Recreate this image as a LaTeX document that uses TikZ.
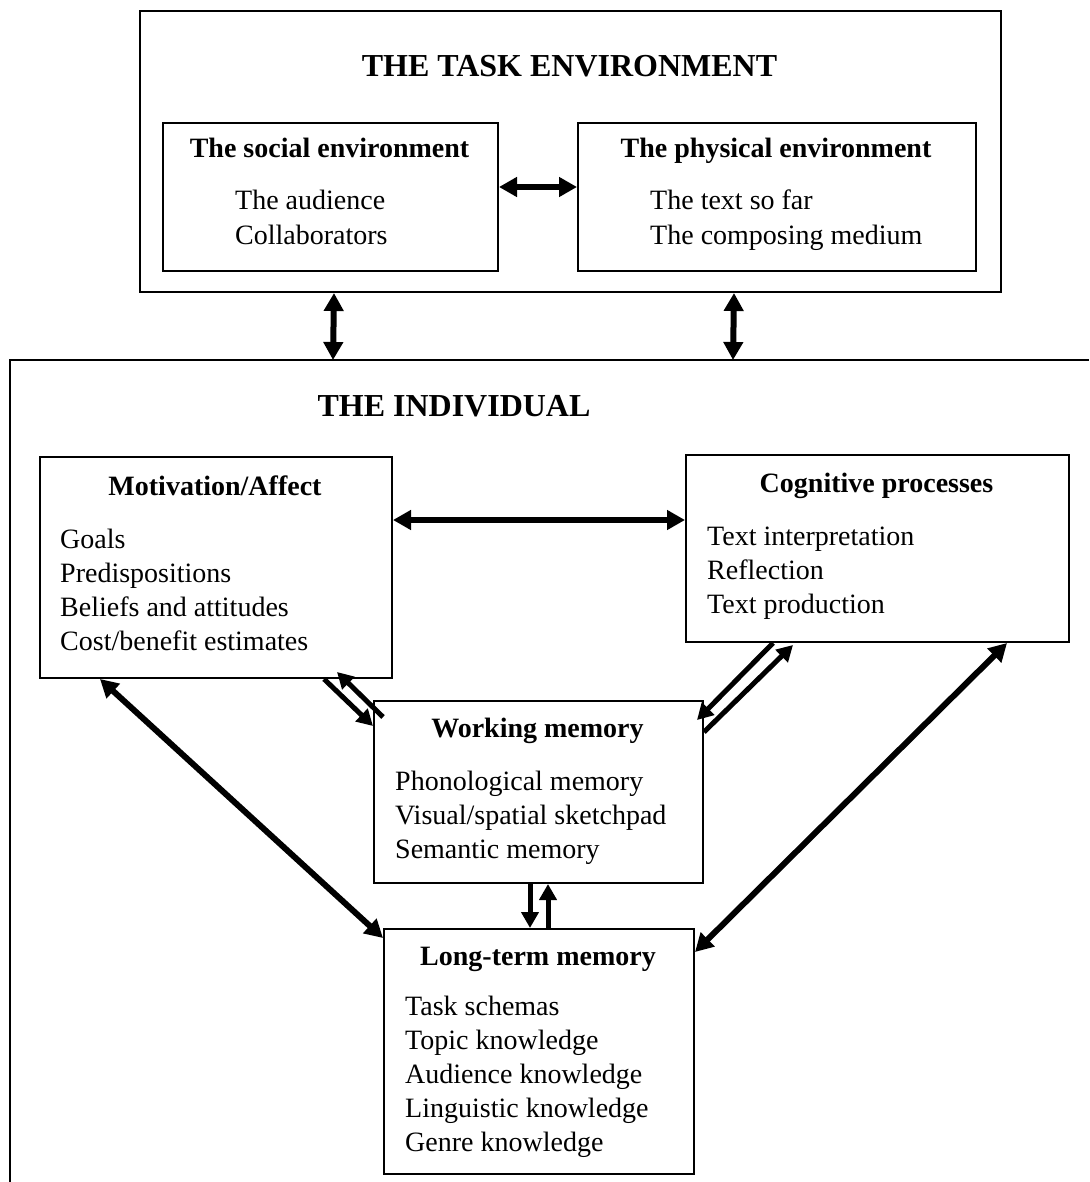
\documentclass[tikz,border=0pt]{standalone}
\usepackage{fontspec}
\setmainfont{Liberation Serif}
\usetikzlibrary{arrows.meta,calc}
\tikzset{
  frame/.style={draw, line width=2pt, inner sep=0pt, anchor=north west},
  maintitle/.style={font=\fontsize{32}{38}\selectfont\bfseries, anchor=base, inner sep=0pt},
  boxtitle/.style={font=\fontsize{28}{34}\selectfont\bfseries, anchor=base, inner sep=0pt},
  item/.style={font=\fontsize{28}{34}\selectfont, anchor=base west, inner sep=0pt},
  link/.style={line width=6pt, {Triangle[length=18pt,width=19pt]}-{Triangle[length=18pt,width=19pt]}},
  oneway/.style={line width=5pt, -{Triangle[length=16pt,width=17pt]}},
}
\begin{document}
\begin{tikzpicture}[x=1pt,y=-1pt]
\useasboundingbox (0,0) rectangle (1089,1182);

% ---- task environment ----
\node[frame, minimum width=861pt, minimum height=281pt] (task) at (139,10) {};
\node[maintitle] (tasktitle) at (569.5,77) {THE TASK ENVIRONMENT};

\node[frame, minimum width=335pt, minimum height=148pt] (soc) at (162,122) {};
\node[boxtitle] (soctitle) at (329.5,158) {The social environment};
\node[item] (soc1) at (235,210) {The audience};
\node[item] (soc2) at (235,244) {Collaborators};

\node[frame, minimum width=398pt, minimum height=148pt] (phys) at (577,122) {};
\node[boxtitle] (phystitle) at (776,158) {The physical environment};
\node[item] (phys1) at (650,210) {The text so far};
\node[item] (phys2) at (650,244) {The composing medium};

\draw[link] ($(soc.east)+(0,-10)$) -- ($(phys.west)+(0,-10)$);

% ---- the individual (open frame) ----
\coordinate (indNW) at (10,360);
\draw[line width=2pt] (10,1182) -- (indNW) -- (1089,360);
\node[maintitle] (indtitle) at (454,416) {THE INDIVIDUAL};

\draw[link] ($(task.south)+(-236.5,0)$) -- ($(indNW)+(323,0)$);
\draw[link] ($(task.south)+(163.5,0)$) -- ($(indNW)+(723,0)$);

% motivation / affect
\node[frame, minimum width=352pt, minimum height=221pt] (mot) at (39,456) {};
\node[boxtitle] (mottitle) at (215,495) {Motivation/Affect};
\node[item] (mot1) at (60,548) {Goals};
\node[item] (mot2) at (60,582) {Predispositions};
\node[item] (mot3) at (60,616) {Beliefs and attitudes};
\node[item] (mot4) at (60,650) {Cost/benefit estimates};

% cognitive processes
\node[frame, minimum width=383pt, minimum height=187pt] (cog) at (685,454) {};
\node[boxtitle] (cogtitle) at (876.5,492) {Cognitive processes};
\node[item] (cog1) at (707,545) {Text interpretation};
\node[item] (cog2) at (707,579) {Reflection};
\node[item] (cog3) at (707,613) {Text production};

% working memory
\node[frame, minimum width=329pt, minimum height=182pt] (wm) at (373,700) {};
\node[boxtitle] (wmtitle) at (537.5,737) {Working memory};
\node[item] (wm1) at (395,790) {Phonological memory};
\node[item] (wm2) at (395,824) {Visual/spatial sketchpad};
\node[item] (wm3) at (395,858) {Semantic memory};

% long-term memory
\node[frame, minimum width=310pt, minimum height=245pt] (ltm) at (383,928) {};
\node[boxtitle] (ltmtitle) at (538,965) {Long-term memory};
\node[item] (ltm1) at (405,1015) {Task schemas};
\node[item] (ltm2) at (405,1049) {Topic knowledge};
\node[item] (ltm3) at (405,1083) {Audience knowledge};
\node[item] (ltm4) at (405,1117) {Linguistic knowledge};
\node[item] (ltm5) at (405,1151) {Genre knowledge};

% ---- connectors inside the individual ----
\draw[link] ($(mot.north east)+(0,64)$) -- ($(cog.north west)+(0,66)$);
\draw[link] ($(mot.south west)+(61,0)$) -- ($(ltm.north west)+(0,10)$);
\draw[link] ($(cog.south east)+(-63,0)$) -- ($(ltm.north east)+(0,24)$);

\draw[oneway] ($(mot.south east)+(-69,0)$) -- ($(wm.north west)+(0,26)$);
\draw[oneway] ($(wm.north west)+(10,17)$) -- ($(mot.south east)+(-56,-7)$);

\draw[oneway] ($(cog.south west)+(88,0)$) -- ($(wm.north east)+(-7,20)$);
\draw[oneway] ($(wm.north east)+(0,32)$) -- ($(cog.south west)+(108,2)$);

\draw[oneway] ($(wm.south)+(-8.5,0)$) -- ($(ltm.north)+(-9,0)$);
\draw[oneway] ($(ltm.north)+(9,0)$) -- ($(wm.south)+(9.5,0)$);
\end{tikzpicture}
\end{document}
